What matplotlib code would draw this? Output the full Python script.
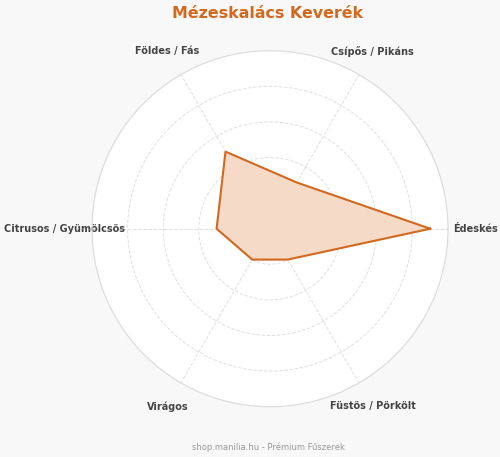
import matplotlib.pyplot as plt
import numpy as np

# flavour profile data (0-10 scale)
categories = ["Édeskés", "Csípős / Pikáns", "Földes / Fás",
              "Citrusos / Gyümölcsös", "Virágos", "Füstös / Pörkölt"]
values = [9, 3, 5, 3, 2, 2]
ring_ticks = [2, 4, 6, 8]
title = "Mézeskalács Keverék"
footer = "shop.manilia.hu - Prémium Fűszerek"

accent = "#d2691e"
fill_col = "#f5dac7"


def main():
    n = len(categories)
    angles = np.linspace(0, 2 * np.pi, n, endpoint=False)
    closed_angles = np.concatenate([angles, angles[:1]])
    closed_vals = values + values[:1]

    fig = plt.figure(figsize=(5.0, 4.57), dpi=100)
    fig.patch.set_facecolor("#f8f8f8")
    ax = fig.add_axes([0.184, 0.110, 0.712, 0.779], projection="polar")
    ax.set_facecolor("white")
    ax.set_axisbelow(True)

    ax.fill(closed_angles, closed_vals, color=fill_col, zorder=2)
    ax.plot(closed_angles, closed_vals, color=accent, linewidth=1.5, zorder=3)

    ax.set_ylim(0, 10)
    ax.set_yticks(ring_ticks)
    ax.set_yticklabels([])
    ax.set_xticks(angles)
    ax.set_xticklabels(categories, fontsize=7, fontweight="bold", color="#444444")
    ax.tick_params(axis="x", pad=9)
    ax.grid(True, color="#e0e0e0", linestyle="--", linewidth=0.7)
    ax.spines["polar"].set_color("#dddddd")
    ax.spines["polar"].set_linewidth(0.9)

    fig.text(0.536, 0.971, title, ha="center", va="center", fontsize=11.4,
             fontweight="bold", color=accent)
    fig.text(0.536, 0.022, footer, ha="center", va="center", fontsize=6,
             color="#999999")

    fig.savefig("out.png", dpi=100, facecolor=fig.get_facecolor())


if __name__ == "__main__":
    main()
